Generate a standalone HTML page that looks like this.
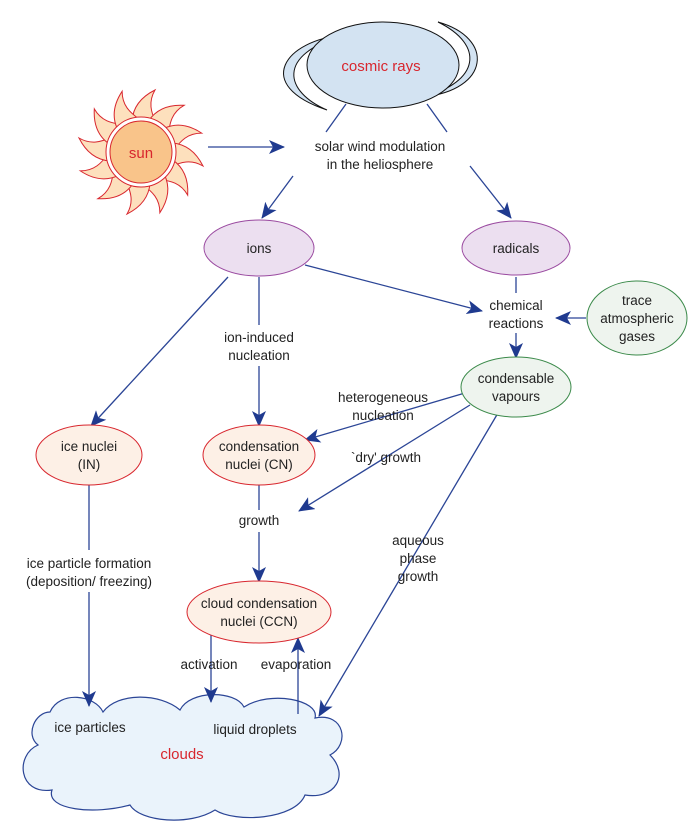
<!DOCTYPE html>
<html><head><style>body{margin:0;background:#fff}svg{display:block}text{font-family:"Liberation Sans",sans-serif;font-size:13.5px;fill:#222;text-anchor:middle}</style></head><body>
<svg width="700" height="826" viewBox="0 0 700 826">
<defs><marker id="a" markerWidth="16" markerHeight="14" refX="15" refY="7" orient="auto" markerUnits="userSpaceOnUse"><path d="M0,0 L16,7 L0,14 L4,7z" fill="#1f3a8f"/></marker></defs>
<path d="M50,712 C60,690 95,695 103,712 C118,692 160,693 180,710 C190,690 235,690 244,707 C270,690 320,700 315,718 C345,712 350,745 330,755 C350,775 335,800 305,795 C295,820 235,823 215,810 C190,826 140,822 130,805 C95,815 45,810 52,790 C18,795 15,755 38,745 C25,735 35,712 50,712 Z" fill="#eaf3fb" stroke="#2b4596" stroke-width="1.2"/>
<g stroke="#2b4596" stroke-width="1.3" fill="none">
<line x1="208" y1="147" x2="284" y2="147" marker-end="url(#a)"/>
<line x1="293" y1="176" x2="262" y2="218" marker-end="url(#a)"/>
<line x1="470" y1="166" x2="511" y2="218" marker-end="url(#a)"/>
<line x1="346" y1="104" x2="326" y2="132"/>
<line x1="427" y1="104" x2="447" y2="132"/>
<line x1="305" y1="265" x2="482" y2="311" marker-end="url(#a)"/>
<line x1="516" y1="277" x2="516" y2="293"/>
<line x1="586" y1="318" x2="556" y2="318" marker-end="url(#a)"/>
<line x1="516" y1="333" x2="516" y2="358" marker-end="url(#a)"/>
<line x1="228" y1="277" x2="91" y2="426" marker-end="url(#a)"/>
<line x1="259" y1="277" x2="259" y2="325"/>
<line x1="259" y1="366" x2="259" y2="426" marker-end="url(#a)"/>
<line x1="465" y1="393" x2="305" y2="440" marker-end="url(#a)"/>
<line x1="470" y1="405" x2="299" y2="511" marker-end="url(#a)"/>
<line x1="498" y1="413" x2="319" y2="716" marker-end="url(#a)"/>
<line x1="259" y1="485" x2="259" y2="510"/>
<line x1="259" y1="532" x2="259" y2="582" marker-end="url(#a)"/>
<line x1="89" y1="485" x2="89" y2="550"/>
<line x1="89" y1="592" x2="89" y2="706" marker-end="url(#a)"/>
<line x1="211" y1="627" x2="211" y2="702" marker-end="url(#a)"/>
<line x1="298" y1="714" x2="298" y2="638" marker-end="url(#a)"/>
</g>
<!-- cosmic rays -->
<path d="M344,35 C285,40 252,85 327,110 C285,92 275,55 344,35 Z" fill="#d3e3f2" stroke="#111" stroke-width="1"/>
<path d="M438,22 C495,38 490,90 423,97 C480,82 485,45 438,22 Z" fill="#d3e3f2" stroke="#111" stroke-width="1"/>
<ellipse cx="383" cy="65" rx="76" ry="43" fill="#d3e3f2" stroke="#111" stroke-width="1"/>
<text x="381" y="71" style="fill:#d8262e;font-size:15px">cosmic rays</text>
<!-- sun -->
<g transform="translate(141,152)" fill="#fde0bd" stroke="#d8262e" stroke-width="1">
<path id="r" d="M-9,-31 C-8,-45 0,-55 14,-62 C7,-50 10,-40 15,-29 Z"/>
<use href="#r" transform="rotate(30)"/><use href="#r" transform="rotate(60)"/><use href="#r" transform="rotate(90)"/><use href="#r" transform="rotate(120)"/><use href="#r" transform="rotate(150)"/><use href="#r" transform="rotate(180)"/><use href="#r" transform="rotate(210)"/><use href="#r" transform="rotate(240)"/><use href="#r" transform="rotate(270)"/><use href="#r" transform="rotate(300)"/><use href="#r" transform="rotate(330)"/>
<circle r="35" fill="#fff"/><circle r="31" fill="#f9c48a"/>
</g>
<text x="141" y="158" style="fill:#d8262e;font-size:15px">sun</text>
<text x="380" y="151">solar wind modulation</text><text x="380" y="169">in the heliosphere</text>
<ellipse cx="259" cy="248" rx="55" ry="28" fill="#ecdff0" stroke="#9a4aa0"/>
<text x="259" y="253">ions</text>
<ellipse cx="516" cy="248" rx="54" ry="27" fill="#ecdff0" stroke="#9a4aa0"/>
<text x="516" y="253">radicals</text>
<text x="516" y="310">chemical</text><text x="516" y="328">reactions</text>
<ellipse cx="637" cy="318" rx="50" ry="37" fill="#eef4ee" stroke="#3b8a4a"/>
<text x="637" y="305">trace</text><text x="637" y="323">atmospheric</text><text x="637" y="341">gases</text>
<ellipse cx="516" cy="387" rx="55" ry="30" fill="#eef4ee" stroke="#3b8a4a"/>
<text x="516" y="383">condensable</text><text x="516" y="401">vapours</text>
<text x="259" y="342">ion-induced</text><text x="259" y="360">nucleation</text>
<text x="383" y="402">heterogeneous</text><text x="383" y="420">nucleation</text>
<text x="386" y="462">`dry' growth</text>
<ellipse cx="89" cy="455" rx="53" ry="30" fill="#fdf0e6" stroke="#d8262e"/>
<text x="89" y="451">ice nuclei</text><text x="89" y="469">(IN)</text>
<ellipse cx="259" cy="455" rx="56" ry="30" fill="#fdf0e6" stroke="#d8262e"/>
<text x="259" y="451">condensation</text><text x="259" y="469">nuclei (CN)</text>
<text x="259" y="525">growth</text>
<text x="418" y="545">aqueous</text><text x="418" y="563">phase</text><text x="418" y="581">growth</text>
<text x="89" y="568">ice particle formation</text><text x="89" y="586">(deposition/ freezing)</text>
<ellipse cx="259" cy="612" rx="72" ry="31" fill="#fdf0e6" stroke="#d8262e"/>
<text x="259" y="608">cloud condensation</text><text x="259" y="626">nuclei (CCN)</text>
<text x="209" y="669">activation</text><text x="296" y="669">evaporation</text>
<text x="90" y="732">ice particles</text>
<text x="255" y="734">liquid droplets</text>
<text x="182" y="759" style="fill:#d8262e;font-size:15px">clouds</text>
</svg>
</body></html>
